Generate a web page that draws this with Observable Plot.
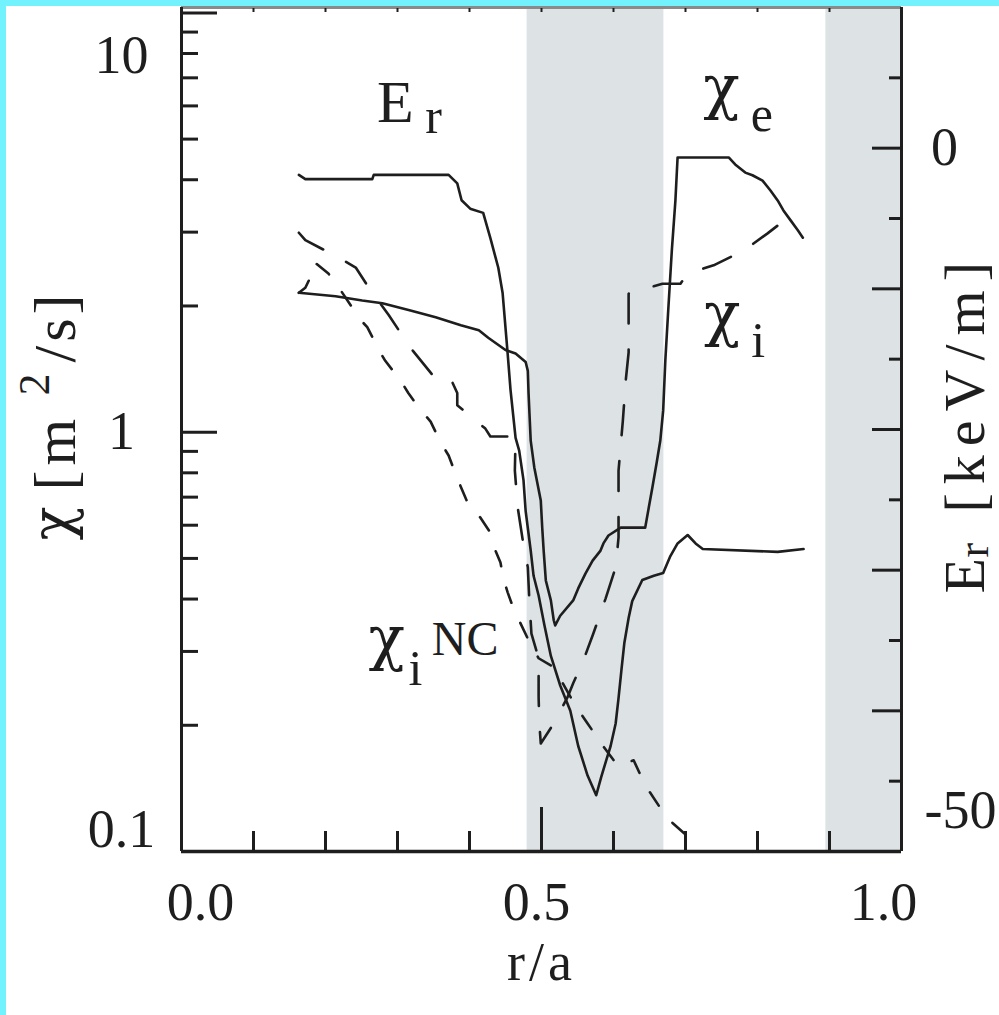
<!DOCTYPE html>
<html><head><meta charset="utf-8">
<style>
html,body{margin:0;padding:0;background:#fff;}
#wrap{position:relative;width:999px;height:1015px;overflow:hidden;background:#fff;}
.cy{position:absolute;background:#72f2fc;}
</style>
<script src="https://cdn.jsdelivr.net/npm/d3@7"></script>
<script src="https://cdn.jsdelivr.net/npm/@observablehq/plot@0.6"></script>
</head><body>
<div id="wrap"><div class="cy" style="left:0;top:0;width:6px;height:1015px"></div><div class="cy" style="left:0;top:0;width:999px;height:6px"></div></div>
<script>
// ---- data (r/a, values) ----
const erR = [0.163,0.172,0.265,0.267,0.371,0.383,0.389,0.401,0.419,0.429,0.440,0.446,0.453,0.457,0.464,0.469,0.475,0.478,0.485,0.489,0.496,0.504,0.513,0.526,0.540,0.551,0.564,0.576,0.583,0.590,0.596,0.603,0.607,0.611,0.615,0.621,0.626,0.640,0.656,0.669,0.679,0.689,0.703,0.714,0.724,0.828,0.864];
const erV = [-1.9,-2.2,-2.2,-1.9,-1.9,-2.5,-3.7,-4.3,-4.6,-6.4,-8.5,-10.3,-14.6,-17.2,-20.6,-21.5,-23.6,-25.8,-28.6,-30.4,-31.8,-33.9,-36.1,-38.2,-40.0,-42.5,-44.6,-46.0,-44.7,-43.5,-42.5,-40.9,-39.1,-37.1,-35.2,-33.4,-32.2,-30.7,-30.4,-30.2,-29.0,-28.1,-27.5,-28.1,-28.5,-28.7,-28.5];

const chiER = [0.163,0.214,0.251,0.279,0.318,0.353,0.388,0.413,0.426,0.450,0.464,0.478,0.481,0.482,0.485,0.490,0.499,0.501,0.503,0.506,0.513,0.517,0.519,0.526,0.544,0.551,0.561,0.571,0.582,0.586,0.593,0.610,0.644,0.649,0.654,0.660,0.665,0.669,0.672,0.676,0.681,0.686,0.689,0.760,0.769,0.783,0.793,0.807,0.818,0.828,0.836,0.846,0.856,0.863];
const chiEV = [2.15,2.11,2.06,2.03,1.95,1.88,1.80,1.75,1.68,1.57,1.54,1.47,1.40,1.24,0.955,0.824,0.687,0.592,0.522,0.443,0.397,0.356,0.346,0.365,0.397,0.424,0.460,0.494,0.522,0.543,0.567,0.592,0.592,0.661,0.738,0.847,0.955,1.127,1.483,1.951,2.71,3.57,4.52,4.52,4.35,4.16,4.10,3.98,3.77,3.57,3.38,3.20,3.03,2.91];

const chiIR = [0.163,0.172,0.218,0.242,0.258,0.288,0.318,0.353,0.374,0.383,0.383,0.422,0.429,0.464,0.463,0.467,0.474,0.481,0.483,0.486,0.496,0.496,0.497,0.499,0.517,0.536,0.544,0.557,0.572,0.589,0.603,0.607,0.607,0.613,0.617,0.621,0.621,0.668,0.693,0.703,0.739,0.781,0.814,0.828,0.853];
const chiIV = [2.99,2.87,2.61,2.47,2.24,1.90,1.59,1.34,1.34,1.24,1.16,1.02,0.977,0.977,0.810,0.661,0.552,0.476,0.401,0.331,0.289,0.233,0.202,0.181,0.202,0.233,0.252,0.282,0.331,0.401,0.476,0.561,0.810,1.066,1.328,1.549,2.14,2.26,2.26,2.39,2.50,2.71,2.98,3.11,3.20];

const chiNCR = [0.163,0.172,0.182,0.185,0.204,0.221,0.249,0.258,0.276,0.283,0.304,0.315,0.332,0.346,0.360,0.371,0.383,0.399,0.415,0.429,0.436,0.443,0.447,0.453,0.461,0.482,0.496,0.517,0.547,0.564,0.585,0.606,0.628,0.644,0.665,0.682,0.721];
const chiNCV = [2.15,2.21,2.40,2.54,2.39,2.18,1.85,1.78,1.55,1.48,1.33,1.24,1.13,1.06,0.945,0.880,0.776,0.669,0.626,0.576,0.522,0.489,0.448,0.415,0.380,0.319,0.289,0.275,0.223,0.202,0.179,0.160,0.165,0.144,0.127,0.117,0.102];

const bandStart = [0.48, 0.895];
const bandEnd = [0.67, 1.0];

const chiDomain = [0.1, 10.3];
const erDomain = [-50, 10];
const chiMajor = [0.1, 1, 10];
const chiMinor = [0.2,0.3,0.4,0.5,0.6,0.7,0.8,0.9,2,3,4,5,6,7,8,9];
const chiLabels = ["0.1", "1", "10"];
const erMajor = [0, -10, -20, -30, -40];
const erMinor = [5, -5, -15, -25, -35, -45];
const erLabels = [0, -50];
const xMinor = [0.1,0.2,0.3,0.4,0.6,0.7,0.8,0.9];
const xMajor = [0.5];
const xTop = [0.1,0.2,0.3,0.4,0.5,0.6,0.7,0.8,0.9];
const xLabelVals = [0, 0.5, 1.0];
const xLabels = ["0.0", "0.5", "1.0"];

// annotation labels: chi glyphs, the "E", subscripts, superscript
const annChiText = ["χ", "χ", "χ"];
const annChiR = [0.750, 0.751, 0.285];
const annChiVal = [6.60, 1.89, 0.319];
const annEText = ["E"];
const annER = [0.297];
const annEVal = [6.11];
const annSubText = ["r", "e", "i", "i"];
const annSubR = [0.350, 0.806, 0.801, 0.325];
const annSubVal = [5.66, 5.72, 1.65, 0.272];
const annSupText = ["NC"];
const annSupR = [0.394];
const annSupVal = [0.320];

// ---- helpers ----
const lg = Math.log10;
const er2chi = e => Math.pow(10, lg(chiDomain[0]) + (e - erDomain[0]) / (erDomain[1] - erDomain[0]) * (lg(chiDomain[1]) - lg(chiDomain[0])));
const zip = (R, V) => R.map((r, i) => ({r, v: V[i]}));
const erData = zip(erR, erV);
const chiEData = zip(chiER, chiEV);
const chiIData = zip(chiIR, chiIV);
const chiNCData = zip(chiNCR, chiNCV);
const bands = bandStart.map((s, i) => ({start: s, end: bandEnd[i]}));
const ann = (T, R, C) => T.map((t, i) => ({t, r: R[i], c: C[i]}));

const INK = "#1e1e1e";
const FONT = "'Liberation Serif', 'Times New Roman', serif";
const GREEK = "'DejaVu Serif', serif";

function yLabel(val, text, anchor, dx, dy) {
  return Plot.axisY([val], {anchor, tickSize: 0, tickPadding: 0, label: null, tickFormat: () => text,
    textAnchor: "middle", lineAnchor: "middle", fontSize: 54, dx, dy, fill: INK});
}
function xLabel(val, text, dx, dy) {
  return Plot.axisX([val], {anchor: "bottom", tickSize: 0, tickPadding: 0, label: null, tickFormat: () => text,
    textAnchor: "middle", lineAnchor: "middle", fontSize: 54, dx, dy, fill: INK});
}
const single = (s, opts) => Plot.text([s], {text: d => d, fill: INK, ...opts});

const chart = Plot.plot({
  width: 999, height: 1015,
  marginLeft: 181, marginRight: 98, marginTop: 7, marginBottom: 164,
  x: {domain: [0, 1]},
  y: {type: "log", domain: chiDomain},
  style: {fontFamily: FONT, color: INK, background: "transparent", overflow: "visible"},
  marks: [
    Plot.rect(bands, {x1: "start", x2: "end", y1: () => chiDomain[0], y2: () => chiDomain[1], fill: "#dde2e5"}),
    // frame lines
    Plot.ruleY([chiDomain[1]], {stroke: "#8a8a8a", strokeWidth: 3}),
    Plot.ruleX([0], {stroke: INK, strokeWidth: 3}),
    Plot.ruleX([1], {stroke: INK, strokeWidth: 3}),
    // ticks (inward)
    Plot.axisY(chiMinor, {anchor: "left", tickSize: -17, fill: "none", label: null, stroke: INK, strokeWidth: 3}),
    Plot.axisY(chiMajor, {anchor: "left", tickSize: -36, fill: "none", label: null, stroke: INK, strokeWidth: 3}),
    Plot.axisY(erMinor.map(er2chi), {anchor: "right", tickSize: -13, fill: "none", label: null, stroke: INK, strokeWidth: 3}),
    Plot.axisY(erMajor.map(er2chi), {anchor: "right", tickSize: -30, fill: "none", label: null, stroke: INK, strokeWidth: 3}),
    Plot.axisX(xMinor, {anchor: "bottom", tickSize: -20, fill: "none", label: null, stroke: INK, strokeWidth: 3}),
    Plot.axisX(xMajor, {anchor: "bottom", tickSize: -44, fill: "none", label: null, stroke: INK, strokeWidth: 3}),
    Plot.axisX(xTop, {anchor: "top", tickSize: -4, fill: "none", label: null, stroke: INK, strokeWidth: 2}),
    // curves
    Plot.line(chiNCData, {x: "r", y: "v", stroke: INK, strokeWidth: 2.6, strokeDasharray: "16,22"}),
    Plot.line(chiIData, {x: "r", y: "v", stroke: INK, strokeWidth: 2.6, strokeDasharray: "30,26"}),
    Plot.line(chiEData, {x: "r", y: "v", stroke: INK, strokeWidth: 2.6}),
    Plot.line(erData, {x: "r", y: d => er2chi(d.v), stroke: INK, strokeWidth: 2.6}),
    Plot.ruleY([chiDomain[0]], {stroke: INK, strokeWidth: 3.5}),
    // tick labels
    yLabel(chiMajor[0], chiLabels[0], "left", -60, -22),
    yLabel(chiMajor[1], chiLabels[1], "left", -60, 0),
    yLabel(chiMajor[2], chiLabels[2], "left", -60, 43),
    yLabel(er2chi(erLabels[0]), `${erLabels[0]}`, "right", 43, 0),
    yLabel(er2chi(erLabels[1]), `${erLabels[1]}`, "right", 59, -41),
    xLabel(xLabelVals[0], xLabels[0], 19, 51),
    xLabel(xLabelVals[1], xLabels[1], -5, 51),
    xLabel(xLabelVals[2], xLabels[2], -18, 51),
    // curve annotations
    Plot.text(ann(annChiText, annChiR, annChiVal), {x: "r", y: "c", text: "t", fontSize: 60, fontFamily: GREEK, fill: INK}),
    Plot.text(ann(annEText, annER, annEVal), {x: "r", y: "c", text: "t", fontSize: 60, fill: INK}),
    Plot.text(ann(annSubText, annSubR, annSubVal), {x: "r", y: "c", text: "t", fontSize: 50, fill: INK}),
    Plot.text(ann(annSupText, annSupR, annSupVal), {x: "r", y: "c", text: "t", fontSize: 48, fill: INK}),
    // left axis title: χ [m²/s]
    single("χ", {frameAnchor: "left", rotate: -90, textAnchor: "start", fontSize: 56, fontFamily: GREEK, dx: -128, dy: 111}),
    single("[m", {frameAnchor: "left", rotate: -90, textAnchor: "start", fontSize: 60, dx: -126, dy: 61}),
    single("2", {frameAnchor: "left", rotate: -90, textAnchor: "start", fontSize: 44, dx: -147, dy: -34}),
    single("/s]", {frameAnchor: "left", rotate: -90, textAnchor: "start", fontSize: 60, dx: -126, dy: -67}),
    // right axis title: Er [keV/m]
    single("E", {frameAnchor: "right", rotate: -90, textAnchor: "start", fontSize: 58, dx: 64, dy: 164}),
    single("r", {frameAnchor: "right", rotate: -90, textAnchor: "start", fontSize: 44, dx: 72, dy: 128}),
    single("[keV/m]", {frameAnchor: "right", rotate: -90, textAnchor: "start", fontSize: 58, dx: 64, dy: 83}),
    // bottom title
    single("r/a", {frameAnchor: "bottom", textAnchor: "middle", fontSize: 54, dy: 128})
  ]
});
// loose letter spacing of the scanned axis titles
const spacing = {"[m": 5, "/s]": 4, "[keV/m]": 9, "r/a": 4};
chart.querySelectorAll("text").forEach(t => {
  const s = spacing[t.textContent];
  if (s) t.setAttribute("letter-spacing", s);
});
chart.style.position = "absolute";
chart.style.left = "0px";
chart.style.top = "0px";
document.getElementById("wrap").prepend(chart);
</script>
</body></html>
